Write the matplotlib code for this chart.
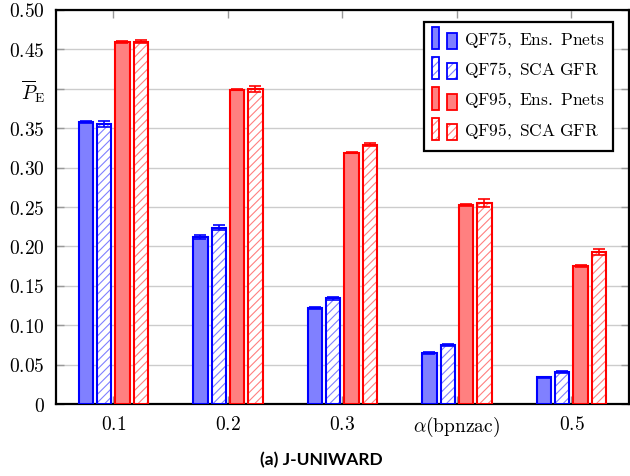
import numpy as np
import matplotlib
matplotlib.use("Agg")
import matplotlib.pyplot as plt
from matplotlib.patches import Rectangle

plt.rcParams['mathtext.fontset'] = 'cm'
plt.rcParams['hatch.linewidth'] = 0.8

# data
groups = ['$0.1$', '$0.2$', '$0.3$', r'$\alpha(\mathrm{bpnzac})$', '$0.5$']
qf75_ens = [0.358, 0.212, 0.122, 0.065, 0.034]
qf75_ens_err = [0.0015, 0.002, 0.001, 0.001, 0.001]
qf75_sca = [0.355, 0.224, 0.134, 0.075, 0.041]
qf75_sca_err = [0.004, 0.003, 0.002, 0.0015, 0.001]
qf95_ens = [0.459, 0.399, 0.319, 0.253, 0.175]
qf95_ens_err = [0.0015, 0.001, 0.001, 0.0015, 0.001]
qf95_sca = [0.460, 0.400, 0.329, 0.255, 0.193]
qf95_sca_err = [0.002, 0.004, 0.002, 0.005, 0.004]
labels = ['QF75, Ens. Pnets', 'QF75, SCA GFR', 'QF95, Ens. Pnets', 'QF95, SCA GFR']

fig = plt.figure(figsize=(6.3, 4.76), dpi=100)
ax = fig.add_axes([0.089, 0.151, 0.909, 0.828])

x = np.arange(len(groups))
w = 0.125
offs = [-0.24, -0.08, 0.08, 0.24]
series = [
    (qf75_ens, qf75_ens_err, 'blue', '#8080ff', False),
    (qf75_sca, qf75_sca_err, 'blue', '#8080ff', True),
    (qf95_ens, qf95_ens_err, 'red', '#ff8080', False),
    (qf95_sca, qf95_sca_err, 'red', '#ff8080', True),
]

for (vals, errs, ec, fc, hatched), off in zip(series, offs):
    if hatched:
        ax.bar(x + off, vals, w, color='white', edgecolor=fc, hatch='////',
               linewidth=0, zorder=3)
        ax.bar(x + off, vals, w, fill=False, edgecolor=ec, linewidth=1.5, zorder=4)
    else:
        ax.bar(x + off, vals, w, color=fc, edgecolor=ec, linewidth=1.5, zorder=3)
    ax.errorbar(x + off, vals, yerr=errs, fmt='none', ecolor=ec, elinewidth=1.2,
                capsize=4.5, capthick=1.2, zorder=5)


class TwoBars:
    def __init__(self, ec, fc, hatched):
        self.ec, self.fc, self.hatched = ec, fc, hatched


class TwoBarHandler:
    # pgfplots-style legend image: two small bars side by side
    def legend_artist(self, legend, orig, fontsize, handlebox):
        x0, y0 = -handlebox.xdescent, -handlebox.ydescent
        h = handlebox.height
        bot = y0 + h / 2 - 7
        arts = []
        for bx, bw, bh in [(x0, 5, 16), (x0 + 11, 7, 11.5)]:
            if orig.hatched:
                r1 = Rectangle((bx, bot), bw, bh, facecolor='white', edgecolor=orig.fc,
                               hatch='////', linewidth=0, transform=handlebox.get_transform())
                handlebox.add_artist(r1)
                r2 = Rectangle((bx, bot), bw, bh, fill=False, edgecolor=orig.ec,
                               linewidth=1.3, transform=handlebox.get_transform())
            else:
                r2 = Rectangle((bx, bot), bw, bh, facecolor=orig.fc, edgecolor=orig.ec,
                               linewidth=1.3, transform=handlebox.get_transform())
            handlebox.add_artist(r2)
            arts.append(r2)
        return arts[0]


handles = [TwoBars(s[2], s[3], s[4]) for s in series]
leg = ax.legend(handles, [r'$\mathrm{' + l.replace(' ', r'\ ') + '}$' for l in labels],
                handler_map={TwoBars: TwoBarHandler()}, loc='upper right',
                bbox_to_anchor=(0.973, 0.97), fontsize=12.5, fancybox=False,
                framealpha=1, edgecolor='black', handlelength=1.44, handleheight=1.0,
                labelspacing=0.6, borderpad=0.5, handletextpad=0.4, borderaxespad=0)
leg.get_frame().set_linewidth(1.6)
leg.set_zorder(10)

ax.set_xlim(-0.5, 4.5)
ax.set_ylim(0, 0.5)
ax.set_xticks(x)
ax.set_xticklabels(groups, fontsize=14)
yt = np.arange(0, 0.51, 0.05)
ax.set_yticks(yt)
ylabs = ['$0$'] + ['$%.2f$' % v for v in yt[1:]]
ylabs[8] = r'$\overline{P}_{\mathrm{E}}$'
ax.set_yticklabels(ylabs, fontsize=14)
ax.tick_params(direction='in', length=6, width=1, color='#999999',
               top=True, right=True, pad=8)
ax.grid(axis='y', color='#cccccc', linewidth=1, zorder=0)
ax.set_axisbelow(True)
for s in ax.spines.values():
    s.set_linewidth(1.6)

fig.text(0.51, 0.033, '(a) J-UNIWARD', ha='center', va='center',
         fontsize=12.5, fontweight='bold', family='Lato')

fig.savefig('out.png', dpi=100)
